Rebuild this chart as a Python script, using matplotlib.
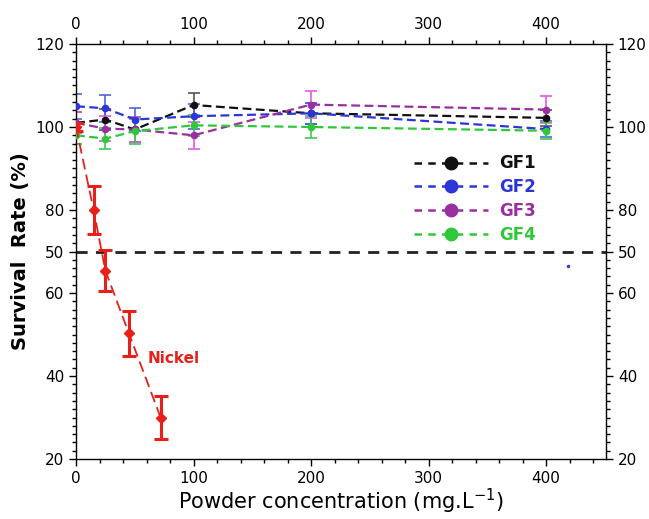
import matplotlib
matplotlib.use("Agg")
import matplotlib.pyplot as plt
from matplotlib.ticker import MultipleLocator

# ---- data ----
conc = [0, 25, 50, 100, 200, 400]
gf1 = [101, 101.8, 99.4, 105.3, 103.3, 102.2]
gf1_err = [2.5, 2.5, 3.0, 3.0, 2.5, 2.0]
gf2 = [105, 104.5, 101.8, 102.6, 103.3, 99.5]
gf2_err = [3.0, 3.2, 2.8, 3.0, 2.5, 2.0]
gf3 = [101, 99.6, 99.4, 98.0, 105.4, 104.2]
gf3_err = [2.5, 3.0, 3.0, 3.2, 3.3, 3.2]
gf4 = [98, 97.2, 99.0, 100.4, 100.0, 99.1]
gf4_err = [2.0, 2.5, 3.0, 2.5, 2.6, 2.0]

nickel_conc = [0, 15, 25, 45, 72]
nickel = [100, 80, 65.4, 50.3, 30]
nickel_err = [1.0, 5.7, 5.0, 5.4, 5.3]

threshold = 70
ytick_vals = [20, 40, 60, 70, 80, 100, 120]
ytick_labels = ["20", "40", "60", "50", "80", "100", "120"]
xtick_vals = [0, 100, 200, 300, 400]

stray_x = [419]
stray_y = [66.4]

series = [
    ("GF1", gf1, gf1_err, "#111111", "#555555"),
    ("GF2", gf2, gf2_err, "#2b35d8", "#4f63e0"),
    ("GF3", gf3, gf3_err, "#9a2fa0", "#e35ae6"),
    ("GF4", gf4, gf4_err, "#2fc83a", "#3fc85a"),
]

fig = plt.figure(figsize=(6.49, 5.19), dpi=100)
ax = fig.add_axes([76/649, 1-459/519, (606-76)/649, (459-44)/519])

ax.axhline(threshold, color="#222222", lw=2.0, ls=(0, (4, 3)), zorder=1)

handles = []
for name, vals, err, col, ecol in series:
    ax.errorbar(conc, vals, yerr=err, fmt="none", ecolor=ecol, elinewidth=1.2,
                capsize=4, capthick=1.2, zorder=2)
    ax.plot(conc, vals, color=col, ls=(0, (4, 2)), lw=1.6, marker="o",
            ms=4.5, zorder=3)
    h, = ax.plot([], [], color=col, ls=(0, (3, 2.5)), lw=1.8, marker="o", ms=9)
    handles.append(h)

ax.errorbar(nickel_conc, nickel, yerr=nickel_err, fmt="none", ecolor="#e8201a",
            elinewidth=2.2, capsize=5, capthick=2.2, zorder=4)
ax.plot(nickel_conc, nickel, color="#e8201a", ls=(0, (6, 3)), lw=1.3,
        marker="D", ms=5, zorder=5)
ax.text(83, 44.2, "Nickel", color="#e8201a", fontsize=11, fontweight="bold",
        ha="center", va="center")

ax.plot(stray_x, stray_y, ls="none", marker="o", ms=1.5, color="#3040d0")

leg = ax.legend(handles, [s[0] for s in series], loc="upper left",
                bbox_to_anchor=(0.61, 0.77), frameon=False, handlelength=4.4,
                labelspacing=0.35, handletextpad=0.7,
                prop={"weight": "bold", "size": 12})
for t, s in zip(leg.get_texts(), series):
    t.set_color(s[3])

ax.set_xlim(0, 451)
ax.set_ylim(20, 120)
ax.set_xticks(xtick_vals)
ax.xaxis.set_minor_locator(MultipleLocator(20))
ax.set_yticks(ytick_vals)
ax.set_yticklabels(ytick_labels)
ax.yaxis.set_minor_locator(MultipleLocator(2))

ax.tick_params(which="both", direction="out", top=True, right=True,
               labeltop=True, labelright=True, labelsize=11, width=1)
ax.tick_params(which="major", length=5)
ax.tick_params(which="minor", length=3)
for sp in ax.spines.values():
    sp.set_linewidth(1.0)

ax.set_xlabel("Powder concentration (mg.L$^{-1}$)", fontsize=15,
              fontweight="normal", labelpad=1)
ax.set_ylabel("Survival  Rate (%)", fontsize=14, fontweight="bold", labelpad=4)

fig.savefig("out.png", dpi=100)
